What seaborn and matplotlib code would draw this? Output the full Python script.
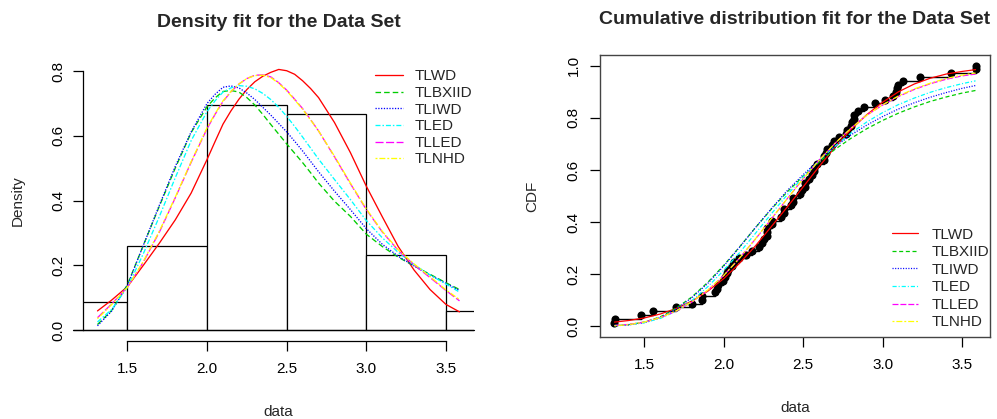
import numpy as np
import pandas as pd
import matplotlib
matplotlib.use("Agg")
import matplotlib.pyplot as plt
import seaborn as sns

# ---------------- data ----------------
data = [1.312, 1.314, 1.479, 1.552, 1.700, 1.803, 1.861, 1.865, 1.944, 1.958,
        1.966, 1.997, 2.006, 2.021, 2.027, 2.055, 2.063, 2.098, 2.140, 2.179,
        2.224, 2.240, 2.253, 2.270, 2.272, 2.274, 2.301, 2.301, 2.359, 2.382,
        2.382, 2.426, 2.434, 2.435, 2.478, 2.490, 2.511, 2.514, 2.535, 2.554,
        2.566, 2.570, 2.586, 2.629, 2.633, 2.642, 2.648, 2.684, 2.697, 2.726,
        2.770, 2.773, 2.800, 2.809, 2.818, 2.821, 2.848, 2.880, 2.954, 3.012,
        3.067, 3.084, 3.090, 3.096, 3.128, 3.233, 3.433, 3.585, 3.585]
hist_breaks = [1.0, 1.5, 2.0, 2.5, 3.0, 3.5, 4.0]

models = ["TLWD", "TLBXIID", "TLIWD", "TLED", "TLLED", "TLNHD"]

# fitted densities
pdf_x = [1.312, 1.4, 1.5, 1.6, 1.7, 1.8, 1.9, 2.0, 2.05, 2.1, 2.15, 2.2, 2.25, 2.3, 2.35,
         2.4, 2.45, 2.5, 2.55, 2.6, 2.65, 2.7, 2.8, 2.9, 3.0, 3.1, 3.2, 3.3, 3.4, 3.5, 3.585]
pdf_tlwd = [0.059, 0.092, 0.134, 0.200, 0.268, 0.340, 0.423, 0.527, 0.582, 0.636, 0.677, 0.713,
            0.743, 0.767, 0.784, 0.796, 0.805, 0.801, 0.790, 0.770, 0.746, 0.718, 0.641, 0.548,
            0.444, 0.350, 0.258, 0.185, 0.125, 0.079, 0.056]
pdf_tlbxiid = [0.017, 0.060, 0.140, 0.262, 0.382, 0.500, 0.610, 0.690, 0.717, 0.737, 0.740, 0.735,
               0.718, 0.695, 0.666, 0.635, 0.605, 0.575, 0.546, 0.517, 0.486, 0.454, 0.398, 0.351,
               0.296, 0.258, 0.225, 0.198, 0.172, 0.146, 0.125]
pdf_tliwd = [0.013, 0.058, 0.138, 0.262, 0.385, 0.505, 0.612, 0.700, 0.728, 0.750, 0.754, 0.748,
             0.732, 0.712, 0.688, 0.664, 0.638, 0.612, 0.583, 0.553, 0.521, 0.489, 0.429, 0.372,
             0.313, 0.265, 0.228, 0.198, 0.170, 0.144, 0.122]
pdf_tled = [0.025, 0.063, 0.132, 0.236, 0.350, 0.470, 0.585, 0.675, 0.708, 0.735, 0.748, 0.755,
            0.753, 0.745, 0.731, 0.712, 0.688, 0.660, 0.629, 0.596, 0.562, 0.528, 0.465, 0.403,
            0.338, 0.285, 0.240, 0.202, 0.170, 0.142, 0.117]
pdf_tlled = [0.038, 0.080, 0.132, 0.210, 0.302, 0.408, 0.518, 0.622, 0.666, 0.706, 0.736, 0.760,
             0.777, 0.787, 0.788, 0.782, 0.764, 0.741, 0.713, 0.684, 0.650, 0.615, 0.535, 0.452,
             0.372, 0.303, 0.246, 0.201, 0.162, 0.122, 0.090]
pdf_tlnhd = [0.035, 0.078, 0.132, 0.212, 0.305, 0.410, 0.520, 0.625, 0.668, 0.708, 0.737, 0.760,
             0.777, 0.786, 0.787, 0.780, 0.762, 0.739, 0.711, 0.682, 0.649, 0.615, 0.537, 0.454,
             0.374, 0.305, 0.248, 0.204, 0.165, 0.124, 0.094]

# fitted CDFs
cdf_x = [1.312, 1.4, 1.5, 1.6, 1.7, 1.8, 1.9, 2.0, 2.1, 2.2, 2.3, 2.4, 2.5,
         2.6, 2.7, 2.8, 2.9, 3.0, 3.1, 3.2, 3.3, 3.4, 3.5, 3.585]
cdf_tlwd = [0.016, 0.022, 0.032, 0.047, 0.068, 0.097, 0.135, 0.183, 0.242, 0.309, 0.383, 0.458,
            0.535, 0.613, 0.687, 0.755, 0.812, 0.860, 0.900, 0.930, 0.952, 0.968, 0.978, 0.985]
cdf_tlbxiid = [0.002, 0.006, 0.016, 0.036, 0.069, 0.113, 0.169, 0.234, 0.305, 0.379, 0.450, 0.516,
               0.576, 0.630, 0.679, 0.721, 0.758, 0.790, 0.818, 0.842, 0.863, 0.880, 0.895, 0.905]
cdf_tliwd = [0.002, 0.005, 0.014, 0.034, 0.066, 0.110, 0.165, 0.231, 0.304, 0.379, 0.452, 0.521,
             0.582, 0.638, 0.689, 0.734, 0.772, 0.805, 0.834, 0.858, 0.879, 0.897, 0.913, 0.924]
cdf_tled = [0.003, 0.006, 0.014, 0.030, 0.058, 0.099, 0.152, 0.215, 0.283, 0.357, 0.432, 0.505,
            0.573, 0.636, 0.691, 0.741, 0.784, 0.820, 0.851, 0.876, 0.898, 0.916, 0.931, 0.942]
cdf_tlled = [0.003, 0.007, 0.016, 0.033, 0.058, 0.093, 0.138, 0.195, 0.262, 0.335, 0.412, 0.490,
             0.566, 0.637, 0.702, 0.760, 0.810, 0.849, 0.882, 0.909, 0.931, 0.948, 0.961, 0.968]
cdf_tlnhd = [0.002, 0.006, 0.016, 0.033, 0.059, 0.094, 0.139, 0.195, 0.262, 0.336, 0.413, 0.490,
             0.566, 0.637, 0.702, 0.759, 0.810, 0.850, 0.884, 0.911, 0.933, 0.951, 0.964, 0.972]

x_ticks = [1.5, 2.0, 2.5, 3.0, 3.5]
x_ticklabels = ["1.5", "2.0", "2.5", "3.0", "3.5"]
pdf_yticks = [0.0, 0.2, 0.4, 0.6, 0.8]
pdf_yticklabels = ["0.0", "0.2", "0.4", "0.6", "0.8"]
cdf_yticks = [0.0, 0.2, 0.4, 0.6, 0.8, 1.0]
cdf_yticklabels = ["0.0", "0.2", "0.4", "0.6", "0.8", "1.0"]

# ---------------- style ----------------
sns.set_style("white")
plt.rcParams["font.family"] = ["Liberation Sans", "DejaVu Sans"]
plt.rcParams["lines.scale_dashes"] = False

colors = ["#FF0000", "#00CD00", "#0000FF", "#00FFFF", "#FF00FF", "#FFFF00"]
dash_left = ["-", (0, (4.0, 2.2)), (0, (0.9, 1.1)), (0, (3.6, 1.4, 1.1, 1.4)),
             (0, (5.8, 1.8)), (0, (1.4, 1.4, 4.3, 1.4))]
dash_right = ["-", (0, (2.9, 1.9)), (0, (0.8, 1.1)), (0, (3.0, 1.4, 0.8, 1.4)),
              (0, (4.3, 1.4)), (0, (1.4, 1.4, 4.3, 1.4))]

W, H = 997, 419
fig = plt.figure(figsize=(W / 100, H / 100), dpi=100)
ax1 = fig.add_axes([83 / W, (H - 341) / H, 391 / W, 280.3 / H])
ax2 = fig.add_axes([600 / W, (H - 336.7) / H, 390 / W, 281.4 / H])

FS = 11
# ---------------- left: density ----------------
sns.histplot(x=data, bins=hist_breaks, stat="density", color="white", edgecolor="black",
             linewidth=0.9, alpha=1.0, ax=ax1, zorder=1)
ax1.axhline(0, xmin=-0.026, xmax=1.0, color="black", lw=0.9, clip_on=False, zorder=1)

pdfs = [pdf_tlwd, pdf_tlbxiid, pdf_tliwd, pdf_tled, pdf_tlled, pdf_tlnhd]
handles1 = []
for name, vals, c, ls in zip(models, pdfs, colors, dash_left):
    sns.lineplot(x=pdf_x, y=vals, color=c, linestyle=ls, lw=0.95, sort=False, ax=ax1, zorder=3)
    handles1.append(ax1.lines[-1])

ax1.set_xlim(1.221, 3.676)
ax1.set_ylim(-0.034, 0.832)
ax1.set_xticks(x_ticks)
ax1.set_xticklabels(x_ticklabels)
ax1.set_yticks(pdf_yticks)
ax1.set_yticklabels(pdf_yticklabels, rotation=90, va="center")
for s in ["top", "right"]:
    ax1.spines[s].set_visible(False)
ax1.spines["left"].set_bounds(0, 0.8)
ax1.spines["bottom"].set_bounds(1.5, 3.5)
for s in ["left", "bottom"]:
    ax1.spines[s].set_color("black")
    ax1.spines[s].set_linewidth(0.9)
ax1.tick_params(axis="both", direction="out", length=7, width=0.9, colors="black",
                labelsize=FS, left=True, bottom=True)
ax1.tick_params(axis="x", pad=8)
ax1.tick_params(axis="y", pad=5.5)
ax1.set_xlabel("data", fontsize=FS, labelpad=21)
ax1.set_ylabel("Density", fontsize=FS, labelpad=19.5)
ax1.set_title("Density fit for the Data Set", fontsize=14, fontweight="bold", pad=24.5)
ax1.legend(handles=handles1, labels=models, loc="upper left",
           bbox_to_anchor=(375 / W, 1 - 69.5 / H), bbox_transform=fig.transFigure,
           frameon=False, fontsize=FS, handlelength=1.83, handletextpad=0.78,
           labelspacing=0.17, borderpad=0, borderaxespad=0)

# ---------------- right: CDF ----------------
xs_sorted = np.sort(np.array(data))
ecdf_y = np.arange(1, len(xs_sorted) + 1) / len(xs_sorted)
ax2.step(xs_sorted, ecdf_y, where="post", color="black", lw=1.0, zorder=2)
sns.scatterplot(x=xs_sorted, y=ecdf_y, color="black", s=34, edgecolor="black",
                linewidth=0, ax=ax2, zorder=2)

cdfs = [cdf_tlwd, cdf_tlbxiid, cdf_tliwd, cdf_tled, cdf_tlled, cdf_tlnhd]
handles2 = []
for name, vals, c, ls in zip(models, cdfs, colors, dash_right):
    sns.lineplot(x=cdf_x, y=vals, color=c, linestyle=ls, lw=0.9, sort=False, ax=ax2, zorder=3)
    handles2.append(ax2.lines[-1])

ax2.set_xlim(1.221, 3.676)
ax2.set_ylim(-0.04, 1.04)
ax2.set_xticks(x_ticks)
ax2.set_xticklabels(x_ticklabels)
ax2.set_yticks(cdf_yticks)
ax2.set_yticklabels(cdf_yticklabels, rotation=90, va="center")
for s in ax2.spines.values():
    s.set_visible(True)
    s.set_color("#444444")
    s.set_linewidth(1.0)
ax2.tick_params(axis="both", direction="out", length=7, width=0.9, colors="black",
                labelsize=FS, left=True, bottom=True)
ax2.tick_params(axis="x", pad=8)
ax2.tick_params(axis="y", pad=7)
ax2.set_xlabel("data", fontsize=FS, labelpad=21)
ax2.set_ylabel("CDF", fontsize=FS, labelpad=19.5)
ax2.set_title("Cumulative distribution fit for the Data Set", fontsize=14,
              fontweight="bold", pad=22.5)
ax2.legend(handles=handles2, labels=models, loc="upper left",
           bbox_to_anchor=(891.7 / W, 1 - 227.8 / H), bbox_transform=fig.transFigure,
           frameon=False, fontsize=FS, handlelength=1.7, handletextpad=0.9,
           labelspacing=0.23, borderpad=0, borderaxespad=0)

fig.savefig("out.png", dpi=100, facecolor="white")
